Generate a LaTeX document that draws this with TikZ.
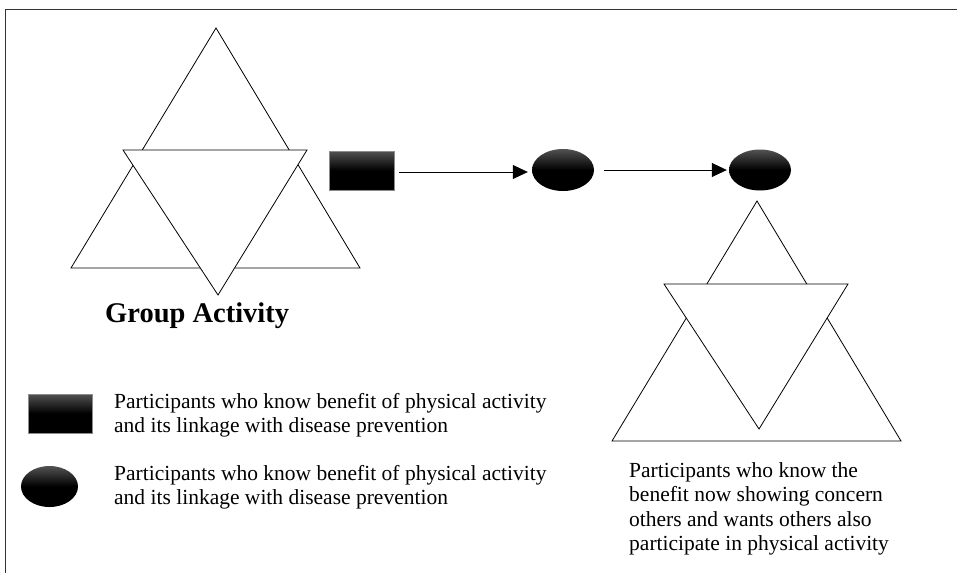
\documentclass[tikz,border=0pt]{standalone}
\usepackage{fontspec}
\setmainfont{Liberation Serif}
\usetikzlibrary{arrows.meta,shapes.geometric}
\begin{document}
\begin{tikzpicture}[x=1pt,y=-1pt,
  tri/.style={draw=black,line width=0.8pt,fill=white,line join=miter},
  darkfill/.style={top color=black!68,bottom color=black,middle color=black},
  sqbox/.style={rectangle,darkfill,draw=black!45,line width=0.6pt,inner sep=0pt},
  oval/.style={ellipse,darkfill,inner sep=0pt},
  flow/.style={line width=0.8pt,-{Triangle[length=15pt,width=14pt]}},
  lbl/.style={font=\fontsize{21.5}{24.5}\selectfont,align=left,inner sep=0pt,anchor=north west}
]
\useasboundingbox (0,0) rectangle (957,573);
% frame
\draw[line width=0.9pt,black!80] (5.5,573) -- (5.5,9) -- (957,9);

% left group
\draw[tri] (216,28) -- (71,268) -- (360,268) -- cycle;
\draw[tri] (123,150) -- (307,150) -- (218,295) -- cycle;
\node[font=\bfseries\fontsize{28.5}{32}\selectfont,anchor=base west,inner sep=0pt] (grp) at (105,322) {Group Activity};

% right group
\draw[tri] (757,201) -- (612,441) -- (901,441) -- cycle;
\draw[tri] (664,284) -- (848,284) -- (759,429) -- cycle;

% flow nodes
\node[sqbox,minimum width=65pt,minimum height=39pt] (sq) at (361.5,170.5) {};
\node[oval,minimum width=62pt,minimum height=42pt] (e1) at (563,170) {};
\node[oval,minimum width=62pt,minimum height=41pt] (e2) at (760,170) {};
\draw[flow,shorten <=5pt,shorten >=4pt] (sq.east |- 0,172) -- (e1.west |- 0,172);
\draw[flow,shorten <=10pt,shorten >=2pt] (e1.east) -- (e2.west);

% legend
\node[sqbox,minimum width=64pt,minimum height=39pt] (lsq) at (60,413.5) {};
\node[oval,minimum width=57pt,minimum height=41pt] (lov) at (49.5,486.5) {};
\node[lbl] (t1) at (114,393) {Participants who know benefit of physical activity\\and its linkage with disease prevention};
\node[lbl] (t2) at (114,465) {Participants who know benefit of physical activity\\and its linkage with disease prevention};
\node[lbl] (t3) at (629,462) {Participants who know the\\benefit now showing concern\\others and wants others also\\participate in physical activity};
\end{tikzpicture}
\end{document}
